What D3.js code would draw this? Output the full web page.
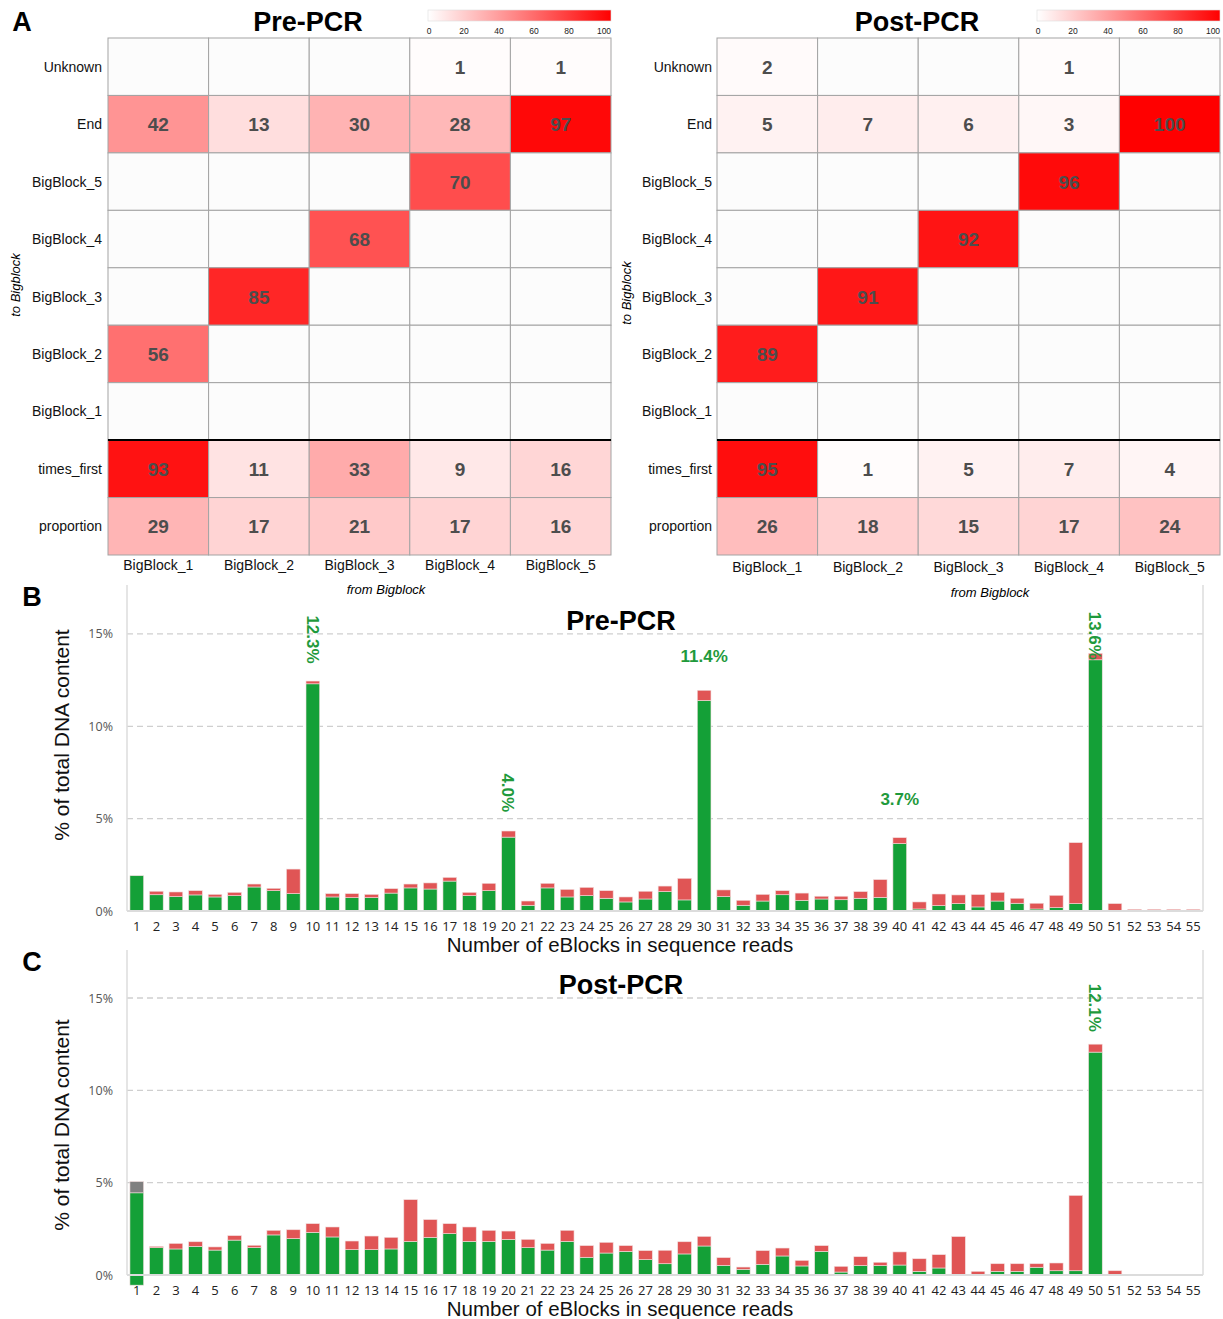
<!DOCTYPE html>
<html>
<head>
<meta charset="utf-8">
<script src="https://cdn.jsdelivr.net/npm/d3@7"></script>
<style>
  body { margin: 0; background: #fff; }
  svg { display: block; }
</style>
</head>
<body>
<div id="figure"></div>
<script>
// ---- panel A data ----
const rowNames = ["Unknown", "End", "BigBlock_5", "BigBlock_4", "BigBlock_3", "BigBlock_2", "BigBlock_1", "times_first", "proportion"];
const colNames = ["BigBlock_1", "BigBlock_2", "BigBlock_3", "BigBlock_4", "BigBlock_5"];
const preMatrix = [
  [null, null, null, 1, 1],
  [42, 13, 30, 28, 97],
  [null, null, null, 70, null],
  [null, null, 68, null, null],
  [null, 85, null, null, null],
  [56, null, null, null, null],
  [null, null, null, null, null],
  [93, 11, 33, 9, 16],
  [29, 17, 21, 17, 16]
];
const postMatrix = [
  [2, null, null, 1, null],
  [5, 7, 6, 3, 100],
  [null, null, null, 96, null],
  [null, null, 92, null, null],
  [null, 91, null, null, null],
  [89, null, null, null, null],
  [null, null, null, null, null],
  [95, 1, 5, 7, 4],
  [26, 18, 15, 17, 24]
];
const legendTicks = [0, 20, 40, 60, 80, 100];

// ---- panels B and C data ----
const eblockCounts = ["1","2","3","4","5","6","7","8","9","10","11","12","13","14","15","16","17","18","19","20",
  "21","22","23","24","25","26","27","28","29","30","31","32","33","34","35","36","37","38","39","40",
  "41","42","43","44","45","46","47","48","49","50","51","52","53","54","55"];
const preGreen = [1.91, 0.88, 0.78, 0.87, 0.76, 0.83, 1.30, 1.10, 0.94, 12.3,
  0.76, 0.72, 0.72, 0.97, 1.25, 1.19, 1.62, 0.83, 1.10, 4.0,
  0.31, 1.25, 0.76, 0.83, 0.69, 0.49, 0.65, 1.05, 0.60, 11.4,
  0.78, 0.31, 0.54, 0.88, 0.58, 0.65, 0.61, 0.69, 0.74, 3.65,
  0.11, 0.29, 0.40, 0.22, 0.54, 0.42, 0.11, 0.18, 0.40, 13.6,
  0, 0, 0, 0, 0];
const preRed = [0, 0.19, 0.25, 0.23, 0.14, 0.18, 0.16, 0.13, 1.33, 0.15,
  0.18, 0.22, 0.18, 0.24, 0.21, 0.33, 0.20, 0.18, 0.40, 0.33,
  0.23, 0.25, 0.41, 0.45, 0.41, 0.27, 0.42, 0.30, 1.17, 0.55,
  0.36, 0.27, 0.36, 0.22, 0.39, 0.15, 0.19, 0.36, 0.96, 0.32,
  0.38, 0.63, 0.47, 0.67, 0.47, 0.27, 0.31, 0.67, 3.30, 0.35,
  0.40, 0.09, 0.09, 0.09, 0.09];
const postGreen = [5.0, 1.48, 1.41, 1.55, 1.35, 1.89, 1.48, 2.17, 1.97, 2.31,
  2.06, 1.37, 1.37, 1.41, 1.82, 2.04, 2.24, 1.82, 1.82, 1.93,
  1.48, 1.35, 1.82, 0.96, 1.19, 1.28, 0.83, 0.61, 1.14, 1.57,
  0.52, 0.31, 0.58, 1.03, 0.49, 1.28, 0.16, 0.51, 0.51, 0.54,
  0.20, 0.38, 0, 0, 0.20, 0.20, 0.42, 0.23, 0.23, 12.07,
  0, 0, 0, 0, 0];
const postRed = [0, 0.07, 0.30, 0.25, 0.17, 0.24, 0.13, 0.25, 0.48, 0.47,
  0.54, 0.47, 0.74, 0.63, 2.26, 0.96, 0.54, 0.78, 0.60, 0.45,
  0.45, 0.36, 0.60, 0.63, 0.58, 0.31, 0.49, 0.73, 0.66, 0.52,
  0.42, 0.12, 0.74, 0.43, 0.30, 0.31, 0.31, 0.48, 0.18, 0.71,
  0.68, 0.72, 2.08, 0.20, 0.41, 0.41, 0.19, 0.42, 4.08, 0.43,
  0.23, 0, 0, 0, 0];
const postGray = {"1": 0.61};
const postBase = {"1": -0.55};   // first post-PCR bar starts below the axis in the original
const preLabels = [
  {n: "10", text: "12.3%", vertical: true},
  {n: "20", text: "4.0%", vertical: true},
  {n: "30", text: "11.4%", vertical: false},
  {n: "40", text: "3.7%", vertical: false},
  {n: "50", text: "13.6%", vertical: true}
];
const postLabels = [
  {n: "50", text: "12.1%", vertical: true}
];
const yTicks = [0, 5, 10, 15];

const W = 1223, H = 1319;
const svg = d3.select("#figure").append("svg").attr("width", W).attr("height", H);
const sans = "'Liberation Sans', Arial, sans-serif";
const segoe = "'Open Sans', 'Noto Sans', sans-serif";

function panelLetter(txt, x, y) {
  svg.append("text").attr("x", x).attr("y", y)
    .attr("text-anchor", "middle").attr("font-family", sans)
    .attr("font-weight", "bold").attr("font-size", 27).text(txt);
}

// ---------- heatmap ----------
function drawHeatmap(matrix, title, left, rowLabelX, yLabelX, yLabelY, xLabelX, xLabelY, colLabelY) {
  const right = left + 503;
  const top = 38, bottom = 555;
  const x = d3.scaleBand().domain(colNames).range([left, right]);
  const y = d3.scaleBand().domain(rowNames).range([top, bottom]);
  const color = d3.scaleLinear().domain([0, 100]).range(["#ffffff", "#ff0000"]);

  const g = svg.append("g");
  const cells = [];
  matrix.forEach((row, i) => row.forEach((v, j) => cells.push({row: rowNames[i], col: colNames[j], v: v})));

  g.selectAll("rect.cell").data(cells).enter().append("rect")
    .attr("class", "cell")
    .attr("x", d => x(d.col)).attr("y", d => y(d.row))
    .attr("width", x.bandwidth()).attr("height", y.bandwidth())
    .attr("fill", d => d.v == null ? "#fcfcfc" : color(d.v))
    .attr("stroke", "#a3a3a3").attr("stroke-width", 1);

  g.selectAll("text.val").data(cells.filter(d => d.v != null)).enter().append("text")
    .attr("x", d => x(d.col) + x.bandwidth() / 2)
    .attr("y", d => y(d.row) + y.bandwidth() / 2 + 7)
    .attr("text-anchor", "middle").attr("font-family", sans)
    .attr("font-weight", "bold").attr("font-size", 19).attr("fill", "#4d4d4d")
    .text(d => d.v);

  // separator between transitions and summary rows
  g.append("line").attr("x1", left).attr("x2", right)
    .attr("y1", y("times_first")).attr("y2", y("times_first"))
    .attr("stroke", "#000").attr("stroke-width", 2);

  g.selectAll("text.rowlab").data(rowNames).enter().append("text")
    .attr("x", rowLabelX).attr("y", d => y(d) + y.bandwidth() / 2 + 5)
    .attr("text-anchor", "end").attr("font-family", sans).attr("font-size", 14)
    .attr("fill", "#111").text(d => d);

  g.selectAll("text.collab").data(colNames).enter().append("text")
    .attr("x", d => x(d) + x.bandwidth() / 2).attr("y", colLabelY)
    .attr("text-anchor", "middle").attr("font-family", sans).attr("font-size", 14)
    .attr("fill", "#111").text(d => d);

  g.append("text").attr("transform", `translate(${yLabelX},${yLabelY}) rotate(-90)`)
    .attr("text-anchor", "middle").attr("font-family", sans).attr("font-style", "italic")
    .attr("font-size", 13).text("to Bigblock");
  g.append("text").attr("x", xLabelX).attr("y", xLabelY)
    .attr("text-anchor", "middle").attr("font-family", sans).attr("font-style", "italic")
    .attr("font-size", 13).text("from Bigblock");

  g.append("text").attr("x", left + 200).attr("y", 31)
    .attr("text-anchor", "middle").attr("font-family", sans)
    .attr("font-weight", "bold").attr("font-size", 27).text(title);

  // colour legend
  const gradId = "grad" + left;
  const grad = svg.append("defs").append("linearGradient").attr("id", gradId);
  grad.append("stop").attr("offset", "0%").attr("stop-color", color(0));
  grad.append("stop").attr("offset", "100%").attr("stop-color", color(100));
  const lx = d3.scaleLinear().domain([0, 100]).range([right - 182, right - 7]);
  g.append("rect").attr("x", right - 183).attr("y", 10).attr("width", 183).attr("height", 11)
    .attr("fill", `url(#${gradId})`).attr("stroke", "#ddd").attr("stroke-width", 0.6);
  g.selectAll("text.lt").data(legendTicks).enter().append("text")
    .attr("x", d => lx(d)).attr("y", 34)
    .attr("text-anchor", "middle").attr("font-family", sans).attr("font-size", 8.5)
    .attr("fill", "#222").text(d => d);
}

panelLetter("A", 22, 31);
drawHeatmap(preMatrix, "Pre-PCR", 108, 102, 20, 285, 386, 594, 570);
drawHeatmap(postMatrix, "Post-PCR", 717, 712, 631, 293, 990, 597, 572);

// ---------- stacked bar panels ----------
function drawBars(green, red, gray, base, labels, title, baseY, topY, maxPct, titleDy, yTitleY) {
  const left = 127, right = 1203;
  const x = d3.scaleBand().domain(eblockCounts).range([left, right]).paddingInner(0.3).paddingOuter(0.15);
  const y = d3.scaleLinear().domain([0, maxPct]).range([baseY, topY]);

  const rows = eblockCounts.map((n, i) => ({n: n, green: green[i], red: red[i], gray: gray[n] || 0}));
  const series = d3.stack().keys(["green", "red", "gray"])(rows);
  const fills = {green: "#14a037", red: "#e05555", gray: "#808080"};

  const g = svg.append("g");

  // grid
  g.selectAll("line.grid").data(yTicks.filter(t => t > 0)).enter().append("line")
    .attr("x1", left).attr("x2", right)
    .attr("y1", d => y(d)).attr("y2", d => y(d))
    .attr("stroke", "#cfcfcf").attr("stroke-width", 1.3).attr("stroke-dasharray", "6,4");

  g.append("line").attr("x1", left).attr("x2", left).attr("y1", topY).attr("y2", baseY)
    .attr("stroke", "#dcdcdc").attr("stroke-width", 1.5);
  g.append("line").attr("x1", right).attr("x2", right).attr("y1", topY).attr("y2", baseY)
    .attr("stroke", "#dcdcdc").attr("stroke-width", 1.5);

  series.forEach(s => {
    g.selectAll(null).data(s.filter(d => d[1] - d[0] > 0)).enter().append("rect")
      .attr("x", d => x(d.data.n))
      .attr("width", x.bandwidth())
      .attr("y", d => y(d[1] + (base[d.data.n] || 0)))
      .attr("height", d => y(d[0] + (base[d.data.n] || 0)) - y(d[1] + (base[d.data.n] || 0)))
      .attr("fill", fills[s.key])
      .attr("stroke", "#f2dede").attr("stroke-width", 0.6);
  });

  g.append("line").attr("x1", left).attr("x2", right).attr("y1", baseY).attr("y2", baseY)
    .attr("stroke", "#dcdcdc").attr("stroke-width", 2);

  const xAxis = g.append("g").attr("transform", `translate(0,${baseY})`)
    .call(d3.axisBottom(x).tickSize(0).tickPadding(11));
  xAxis.select(".domain").remove();
  xAxis.selectAll("text").attr("font-family", segoe).attr("font-size", 13).attr("fill", "#222");

  const yAxis = g.append("g").attr("transform", `translate(${left},0)`)
    .call(d3.axisLeft(y).tickValues(yTicks).tickFormat(d => d + "%").tickSize(0).tickPadding(14));
  yAxis.select(".domain").remove();
  yAxis.selectAll("text").attr("font-family", segoe).attr("font-size", 12.5).attr("fill", "#555");

  g.append("text").attr("x", 620).attr("y", baseY + 41)
    .attr("text-anchor", "middle").attr("font-family", sans).attr("font-size", 20.5)
    .attr("fill", "#111").text("Number of eBlocks in sequence reads");
  g.append("text").attr("transform", `translate(69,${yTitleY}) rotate(-90)`)
    .attr("text-anchor", "middle").attr("font-family", sans).attr("font-size", 21)
    .attr("fill", "#111").text("% of total DNA content");

  g.append("text").attr("x", 621).attr("y", topY + titleDy)
    .attr("text-anchor", "middle").attr("font-family", sans)
    .attr("font-weight", "bold").attr("font-size", 27).text(title);

  // value annotations
  labels.forEach(l => {
    const i = eblockCounts.indexOf(l.n);
    const cx = x(l.n) + x.bandwidth() / 2;
    const cy = y(Math.min(green[i] + 2.4, 14.9));
    const t = g.append("text").attr("text-anchor", "middle")
      .attr("font-family", sans).attr("font-weight", "bold").attr("font-size", 17)
      .attr("fill", "#1f9a3c").text(l.text);
    if (l.vertical) t.attr("transform", `translate(${cx - 6},${cy}) rotate(90)`);
    else t.attr("x", cx).attr("y", cy + 6);
  });
}

panelLetter("B", 32, 606);
drawBars(preGreen, preRed, {}, {}, preLabels, "Pre-PCR", 911, 585, 17.65, 45, 735);
panelLetter("C", 32, 971);
drawBars(postGreen, postRed, postGray, postBase, postLabels, "Post-PCR", 1275, 950, 17.6, 44, 1125);
</script>
</body>
</html>
